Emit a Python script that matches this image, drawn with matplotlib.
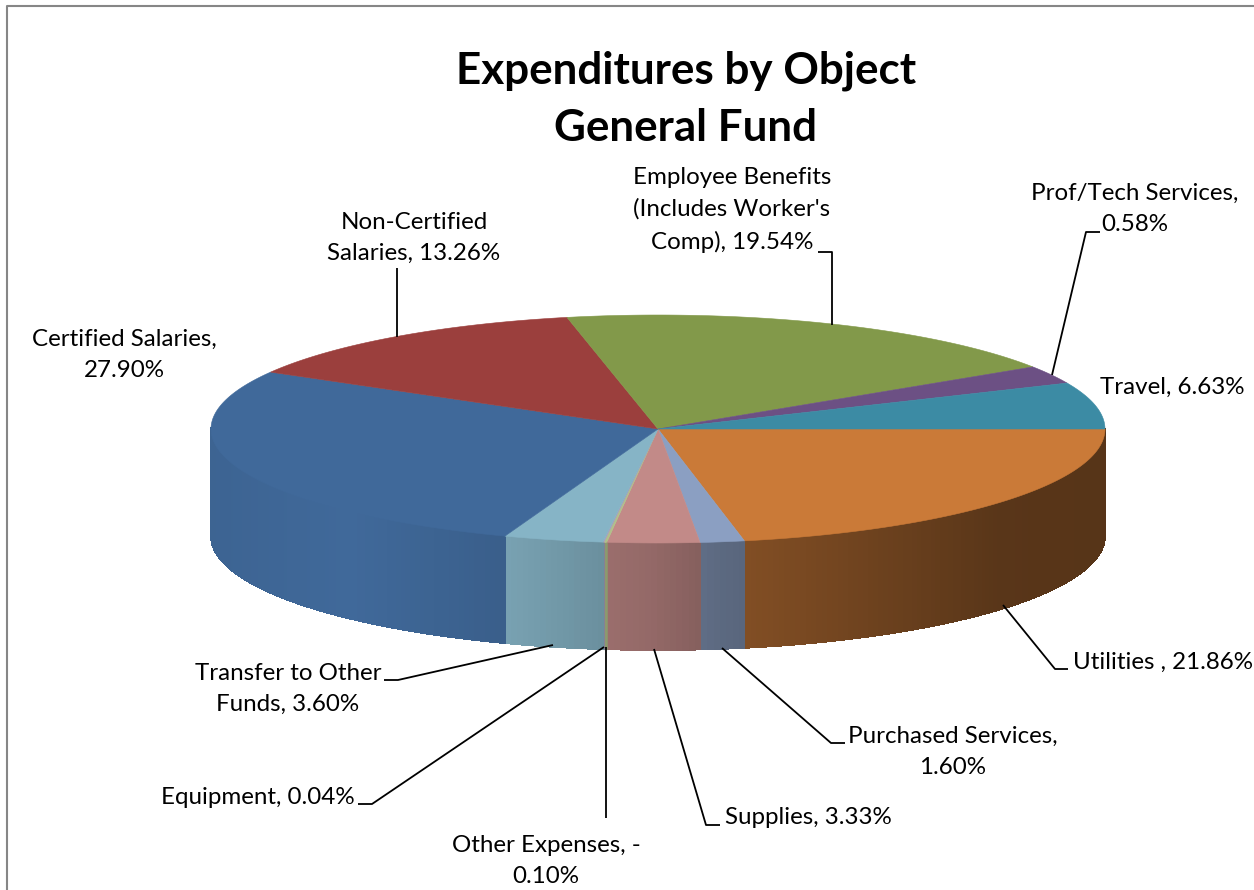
import numpy as np
import matplotlib
matplotlib.use('Agg')
import matplotlib.pyplot as plt
from matplotlib.collections import PolyCollection

plt.rcParams['font.family'] = ['Lato', 'DejaVu Sans']

# slices clockwise from 3 o'clock
categories = ['Utilities ', 'Purchased Services', 'Supplies', 'Other Expenses',
              'Equipment', 'Transfer to Other Funds', 'Certified Salaries',
              'Non-Certified Salaries', "Employee Benefits (Includes Worker's Comp)",
              'Prof/Tech Services', 'Travel']
# percent as printed on the labels
printed = ['21.86%', '1.60%', '3.33%', '-0.10%', '0.04%', '3.60%', '27.90%',
           '13.26%', '19.54%', '0.58%', '6.63%']
# size of slices as drawn (prof/tech slice is drawn wider than its label says)
shares = [21.86, 1.60, 3.33, 0.10, 0.04, 3.60, 27.90, 13.26, 19.54, 2.58, 6.63]
colors = ['#CA7A38', '#8B9FC2', '#C28A88', '#B0C08A', '#A99BBD', '#86B4C6',
          '#40699A', '#9B3F3D', '#82994A', '#6C5084', '#3C8BA4']

# label text + where it goes, leader line in pixels
label_text = ['Utilities , 21.86%', 'Purchased Services,\n1.60%', 'Supplies, 3.33%',
              'Other Expenses, -\n0.10%', 'Equipment, 0.04%', 'Transfer to Other\nFunds, 3.60%',
              'Certified Salaries,\n27.90%', 'Non-Certified\nSalaries, 13.26%',
              "Employee Benefits\n(Includes Worker's\nComp), 19.54%",
              'Prof/Tech Services,\n0.58%', 'Travel, 6.63%']
label_pos = [(1163, 662), (953, 752), (808, 818), (546, 861), (258, 797), (288, 689),
             (124, 355), (414, 238), (732, 210), (1135, 209), (1172, 387)]
leaders = [[(1068, 669), (1055, 669), (1003, 605)],
           [(845, 743), (831, 743), (722, 648)],
           [(720, 825), (706, 825), (654, 649)],
           [(606, 818), (606, 647)],
           [(358, 804), (372, 804), (604, 647)],
           [(384, 680), (398, 680), (553, 645)],
           None,
           [(397, 268), (397, 337)],
           [(818, 252), (832, 252), (832, 325)],
           [(1100, 232), (1086, 232), (1052, 375)],
           None]

cx, cy, rx, ry, depth = 658, 429, 447, 114, 107

fig = plt.figure(figsize=(12.54, 8.9), dpi=100)
ax = fig.add_axes([0, 0, 1, 1])
ax.set_xlim(0, 1254)
ax.set_ylim(890, 0)
ax.axis('off')


def rim(t):
    # the 3d view bends the angles a little, correction in degrees
    t = t + np.radians(np.interp(np.degrees(t), [0, 78, 109, 209, 257, 327, 360],
                                 [0, .5, .6, .5, 1.3, 0, 0]))
    return cx + rx * np.cos(t), cy + ry * np.sin(t)


def side_shade(x):
    # how much darker the side wall is, read across the picture
    return np.interp(x, [211, 350, 505, 600, 650, 720, 745, 800, 900, 1000, 1105],
                     [.95, 1.0, .9, .8, .76, .66, .64, .6, .52, .44, .43])


edges = np.cumsum([0] + shares) / sum(shares) * 2 * np.pi

# side walls, only the front half shows
for i, c in enumerate(colors):
    t0, t1 = edges[i], min(edges[i + 1], np.pi)
    if t0 >= np.pi:
        continue
    ts = np.linspace(t0, t1, max(2, int((t1 - t0) * 80)))
    polys, faces = [], []
    base = np.array(matplotlib.colors.to_rgb(c))
    for a, b in zip(ts[:-1], ts[1:]):
        xa, ya = rim(a)
        xb, yb = rim(b)
        polys.append([(xa, ya), (xb, yb), (xb, yb + depth), (xa, ya + depth)])
        faces.append(base * side_shade((xa + xb) / 2))
    ax.add_collection(PolyCollection(polys, facecolors=faces, edgecolors=faces,
                                     linewidths=0.6, antialiaseds=False))

# top face
for i, c in enumerate(colors):
    ts = np.linspace(edges[i], edges[i + 1], max(2, int((edges[i + 1] - edges[i]) * 120)))
    xs, ys = rim(ts)
    ax.fill(np.r_[cx, xs], np.r_[cy, ys], facecolor=c, edgecolor=c, linewidth=0.4, zorder=3)

for pts in leaders:
    if pts is not None:
        ax.plot(*zip(*pts), color='black', lw=1.3, zorder=4, solid_capstyle='butt')

for txt, (x, y) in zip(label_text, label_pos):
    ax.text(x, y, txt, ha='center', va='center', fontsize=17.4, color='black',
            linespacing=1.62, zorder=5)

ax.text(686, 99, 'Expenditures by Object\nGeneral Fund', ha='center', va='center',
        fontsize=31.7, fontweight='bold', color='black', linespacing=1.53, zorder=5)

# chart frame, cut off at right and bottom
ax.plot([6.5, 6.5, 1254], [890, 6, 6], color='#868686', lw=1.5, zorder=6)

fig.savefig('out.png', dpi=100)
